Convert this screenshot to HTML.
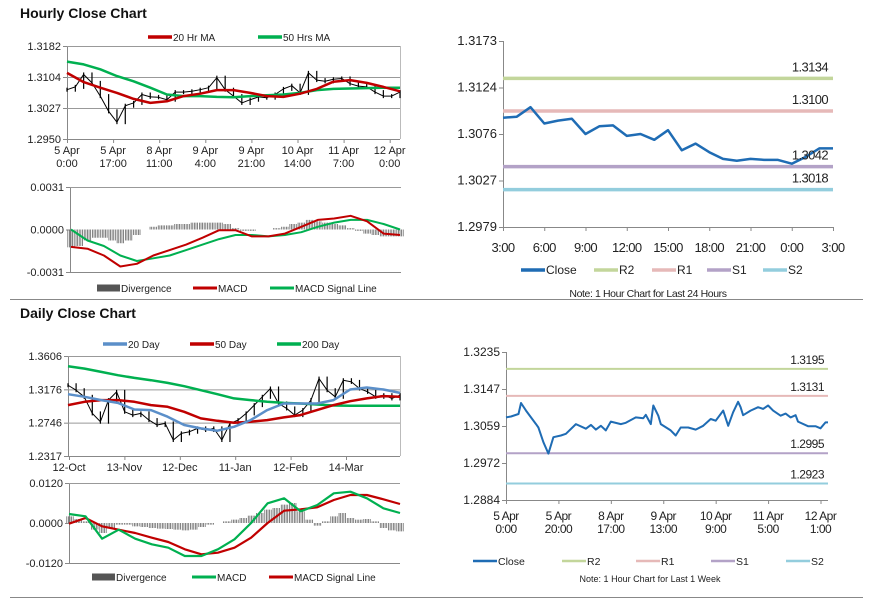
<!DOCTYPE html>
<html><head><meta charset="utf-8"><style>
html,body{margin:0;padding:0;background:#fff;}
svg{display:block;font-family:"Liberation Sans",Arial,sans-serif;}
</style></head><body>
<svg id="s" width="873" height="601" viewBox="0 0 873 601" xmlns="http://www.w3.org/2000/svg">
<rect x="0" y="0" width="873" height="601" fill="#fff"/>
<text x="20" y="18" font-size="14" font-weight="bold" fill="#111">Hourly Close Chart</text>
<text x="20" y="318" font-size="14" font-weight="bold" fill="#111">Daily Close Chart</text>
<line x1="10" y1="299.5" x2="863" y2="299.5" stroke="#888" stroke-width="1"/>
<line x1="10" y1="597.5" x2="863" y2="597.5" stroke="#888" stroke-width="1"/>
</svg>
<script>
// ---------- DATA ----------
const hourlyCloses=[1.3073,1.3080,1.3111,1.3090,1.3057,1.3019,1.2992,1.3033,1.3040,1.3061,1.3055,1.3054,1.3048,1.3067,1.3067,1.3069,1.3073,1.3078,1.3103,1.3073,1.3057,1.3040,1.3048,1.3055,1.3053,1.3061,1.3075,1.3083,1.3065,1.3115,1.3097,1.3094,1.3099,1.3101,1.3088,1.3082,1.3080,1.3067,1.3057,1.3057,1.3067];
const hourlyMA20=[1.3115,1.3092,1.3078,1.3065,1.3050,1.3040,1.3044,1.3057,1.3063,1.3072,1.3072,1.3065,1.3057,1.3055,1.3063,1.3075,1.3093,1.3097,1.3090,1.3080,1.3069];
const hourlyMA50=[1.3143,1.3136,1.3124,1.3107,1.3094,1.3078,1.3061,1.3057,1.3057,1.3055,1.3054,1.3057,1.3059,1.3061,1.3065,1.3072,1.3075,1.3076,1.3077,1.3078,1.3078];
const hourlyYTicks=["1.3182","1.3104","1.3027","1.2950"];
const hourlyXTicks=[["5 Apr","0:00"],["5 Apr","17:00"],["8 Apr","11:00"],["9 Apr","4:00"],["9 Apr","21:00"],["10 Apr","14:00"],["11 Apr","7:00"],["12 Apr","0:00"]];
const hMacd=[-0.00127,-0.0014,-0.0019,-0.0027,-0.0025,-0.0019,-0.0015,-0.0011,-0.0006,-0.00005,-0.00005,-0.0005,-0.0005,-0.0003,0.0002,0.0007,0.0008,0.0010,0.0006,-0.0003,-0.0004];
const hSignal=[0,-0.0008,-0.0012,-0.0019,-0.0023,-0.0021,-0.0019,-0.0015,-0.0011,-0.0007,-0.0004,-0.0004,-0.0005,-0.0004,-0.0002,0.0002,0.0005,0.0007,0.0007,0.0004,0];
const hDiv=[-0.0013,-0.0012,-0.0008,-0.0006,-0.0006,-0.0008,-0.0010,-0.0008,-0.0004,0.0000,0.0002,0.0003,0.0003,0.0004,0.0004,0.0005,0.0005,0.0005,0.0005,0.0004,0.0001,-0.0001,-0.0001,0.0000,0.0000,0.0001,0.0002,0.0004,0.0005,0.0007,0.0006,0.0005,0.0004,0.0003,0.0001,-0.0001,-0.0003,-0.0004,-0.0005,-0.0005,-0.0005];
const hMacdTicks=["0.0031","0.0000","-0.0031"];
const dayCloses=[1.3093,1.3094,1.3104,1.3087,1.3090,1.3092,1.3076,1.3084,1.3085,1.3074,1.3076,1.3070,1.3080,1.3059,1.3066,1.3057,1.3050,1.3048,1.3050,1.3049,1.3049,1.3045,1.3052,1.3061,1.3061];
const dayLevels=[1.3134,1.3100,1.3042,1.3018];
const dayLevelNames=["R2","R1","S1","S2"];
const dayYTicks=["1.3173","1.3124","1.3076","1.3027","1.2979"];
const dayXTicks=["3:00","6:00","9:00","12:00","15:00","18:00","21:00","0:00","3:00"];
const dailyCloses=[1.3229,1.3165,1.3080,1.2866,1.2759,1.3037,1.3144,1.2887,1.2844,1.2866,1.2780,1.2716,1.2737,1.2523,1.2609,1.2630,1.2673,1.2652,1.2673,1.2523,1.2737,1.2780,1.2866,1.2973,1.3080,1.3187,1.2994,1.2930,1.2844,1.2909,1.3037,1.3315,1.3165,1.3080,1.3294,1.3272,1.3187,1.3144,1.3080,1.3101,1.3059,1.3101];
const daily20=[1.3114,1.3080,1.3037,1.3002,1.2917,1.2909,1.2823,1.2716,1.2673,1.2643,1.2694,1.2780,1.2909,1.2994,1.2994,1.2994,1.3037,1.3174,1.3200,1.3174,1.3131];
const daily50=[1.2973,1.3016,1.3037,1.3037,1.3016,1.2973,1.2951,1.2887,1.2802,1.2771,1.2746,1.2759,1.2780,1.2814,1.2844,1.2909,1.2973,1.3024,1.3059,1.3089,1.3080];
const daily200=[1.3473,1.3443,1.3401,1.3358,1.3324,1.3294,1.3259,1.3217,1.3165,1.3114,1.3059,1.3037,1.3016,1.3002,1.2994,1.2981,1.2968,1.2964,1.2964,1.2964,1.2964];
const dailyYTicks=["1.3606","1.3176","1.2746","1.2317"];
const dailyXTicks=["12-Oct","13-Nov","12-Dec","11-Jan","12-Feb","14-Mar"];
const dMacd=[0.0027,0.0020,-0.0047,-0.0020,-0.0047,-0.0064,-0.0074,-0.0099,-0.0099,-0.0079,-0.0049,0,0.0059,0.0074,0.0035,0.0054,0.0089,0.0094,0.0074,0.0044,0.0030];
const dSignal=[-0.0002,0.0015,-0.0010,-0.0020,-0.0030,-0.0044,-0.0057,-0.0079,-0.0094,-0.0089,-0.0074,-0.0044,0,0.0037,0.0041,0.0047,0.0069,0.0084,0.0084,0.0071,0.0057];
const dDiv=[0.0020,0.0012,0.0005,-0.0020,-0.0030,-0.0015,-0.0005,-0.0005,-0.0010,-0.0012,-0.0015,-0.0017,-0.0018,-0.0020,-0.0022,-0.0020,-0.0012,-0.0005,0.0000,0.0005,0.0010,0.0015,0.0022,0.0030,0.0040,0.0045,0.0055,0.0060,0.0035,0.0010,-0.0008,0.0005,0.0020,0.0030,0.0015,0.0010,0.0012,0.0005,-0.0015,-0.0022,-0.0025];
const dMacdTicks=["0.0120","0.0000","-0.0120"];
const weekHours=[0,2,5,6,8,10,12,13,15,17,19,22,24,28,32,34,36,38,40,42,46,48,52,55,56,58,59,61,62,66,68,70,73,76,79,82,84,87,89,91,93,94,95,98,101,103,105,107,110,112,114,116,117,121,124,126,128,129];
const weekCloses=[1.3080,1.3082,1.3088,1.3114,1.3096,1.3080,1.3064,1.3056,1.3021,1.2994,1.3033,1.3037,1.3041,1.3064,1.3053,1.3062,1.3051,1.3060,1.3049,1.3070,1.3064,1.3067,1.3080,1.3078,1.3086,1.3064,1.3108,1.3084,1.3064,1.3049,1.3037,1.3056,1.3056,1.3051,1.3060,1.3076,1.3072,1.3096,1.3060,1.3092,1.3117,1.3104,1.3085,1.3096,1.3104,1.3100,1.3108,1.3096,1.3084,1.3089,1.3080,1.3085,1.3070,1.3059,1.3059,1.3054,1.3068,1.3068];
const weekLevels=[1.3195,1.3131,1.2995,1.2923];
const weekYTicks=["1.3235","1.3147","1.3059","1.2972","1.2884"];
const weekXTicks=[["5 Apr","0:00",0],["5 Apr","20:00",21],["8 Apr","17:00",42],["9 Apr","13:00",63],["10 Apr","9:00",84],["11 Apr","5:00",105],["12 Apr","1:00",126]];

// ---------- HELPERS ----------
const svg=document.getElementById('s');
const NS='http://www.w3.org/2000/svg';
function mk(tag,attrs,parent){const e=document.createElementNS(NS,tag);for(const k in attrs)e.setAttribute(k,attrs[k]);(parent||svg).appendChild(e);return e;}
function lin(d0,d1,r0,r1){return v=>r0+(v-d0)/(d1-d0)*(r1-r0);}
function txt(s,x,y,size,anchor,parent,fill){const t=mk('text',{x:x,y:y,'font-size':size,'text-anchor':anchor||'start',fill:fill||'#222'},parent);t.textContent=s;return t;}
function pathFrom(vals,xs,ys,xf){return vals.map((v,i)=>(i?'L':'M')+xf(i).toFixed(1)+','+ys(v).toFixed(1)).join('');}
function group(name){const g=mk('g',{});return g;}
function yAxis(g,x,yTop,yBot,ticks,xRight,grid,size){
  mk('line',{x1:x+.5,y1:yTop,x2:x+.5,y2:yBot,stroke:'#888'},g);
  ticks.forEach((t,i)=>{const y=yTop+i*(yBot-yTop)/(ticks.length-1);
    mk('line',{x1:x-4,y1:y+.5,x2:x,y2:y+.5,stroke:'#888'},g);
    if(grid)mk('line',{x1:x,y1:y+.5,x2:xRight,y2:y+.5,stroke:'#999'},g);
    const tl=txt(t,x-6,y+4,size,'end',g);
    
    });
}
function legendLine(g,x,y,color,label,w,size){
  mk('line',{x1:x,y1:y,x2:x+24,y2:y,stroke:color,'stroke-width':w||3.5},g);
  const t=txt(label,x+25,y+4,size||10,'start',g);
  
  
}
function legendBox(g,x,y,label,size){
  mk('rect',{x:x,y:y-3.5,width:23,height:7,fill:'#555'},g);
  const t=txt(label,x+24,y+4,size||10,'start',g);
  
  
}
function candles(g,vals,x0,x1,ys){
  const xf=i=>x0+i*(x1-x0)/(vals.length-1);
  vals.forEach((v,i)=>{const p=i?vals[i-1]:v;const a=Math.min(ys(p),ys(v)),b=Math.max(ys(p),ys(v));
    const c=mk('rect',{x:xf(i)-0.6,y:a-2,width:1.2,height:b-a+4,fill:'#000'},g);
    
    
    if(i){const m=mk('line',{x1:xf(i-1),y1:ys(p),x2:xf(i),y2:ys(v),stroke:'#000','stroke-width':1},g);
      
      }
  });
}
function series(g,vals,x0,x1,ys,color,w,name){
  const xf=i=>x0+i*(x1-x0)/(vals.length-1);
  const p=mk('path',{d:pathFrom(vals,null,ys,xf),fill:'none',stroke:color,'stroke-width':w,'stroke-linejoin':'round'},g);
  
  
}
function bars(g,vals,x0,x1,ys){
  const xf=i=>x0+i*(x1-x0)/(vals.length-1);
  vals.forEach((v,i)=>{for(let k=-2;k<=2;k++){const y=ys(v);
    const b=mk('line',{x1:xf(i)+k*1.6,y1:ys(0),x2:xf(i)+k*1.6,y2:y,stroke:'#666','stroke-width':0.8},g);
    
    }});
}

// ---------- CHART 1 ----------
(function(){
  const g=group('hourly-price-chart');
  const ys=lin(1.3182,1.2950,46,139);
  yAxis(g,67,46,139,hourlyYTicks,400,true,11);
  mk('line',{x1:67,y1:139.5,x2:400,y2:139.5,stroke:'#888'},g);
  mk('line',{x1:400.5,y1:46,x2:400.5,y2:139,stroke:'#bbb'},g);
  hourlyXTicks.forEach((t,i)=>{const x=67+i*46.1;
    mk('line',{x1:x+.5,y1:139,x2:x+.5,y2:143,stroke:'#888'},g);
    const a=txt(t[0],x,154,11,'middle',g);
    const b=txt(t[1],x,167,11,'middle',g);});
  candles(g,hourlyCloses,67,400,ys);
  series(g,hourlyMA50,67,400,ys,'#00b050',2.5,'ma-50-line');
  series(g,hourlyMA20,67,400,ys,'#c00000',2.5,'ma-20-line');
  legendLine(g,148,37,'#c00000','20 Hr MA',3.5,10);
  legendLine(g,258,37,'#00b050','50 Hrs MA',3.5,10);
})();
(function(){
  const g=group('hourly-macd-chart');
  const ys=lin(0.0031,-0.0031,187,272);
  yAxis(g,70,187,272,hMacdTicks,401,false,11);
  mk('line',{x1:70,y1:187.5,x2:401,y2:187.5,stroke:'#999'},g);
  mk('line',{x1:70,y1:272.5,x2:401,y2:272.5,stroke:'#888'},g);
  bars(g,hDiv,71,400,ys);
  series(g,hSignal,71,400,ys,'#00b050',2,'macd-signal-line');
  series(g,hMacd,71,400,ys,'#c00000',2,'macd-line');
  legendBox(g,97,288,'Divergence',10);
  legendLine(g,193,288,'#c00000','MACD',3,10);
  legendLine(g,270,288,'#00b050','MACD Signal Line',3,10);
})();
// ---------- CHART 2 ----------
(function(){
  const g=group('last-24h-chart');
  const ys=lin(1.3173,1.2979,41,227);
  yAxis(g,503,41,227,dayYTicks,833,false,13);
  mk('line',{x1:503,y1:227.5,x2:833,y2:227.5,stroke:'#888'},g);
  dayXTicks.forEach((t,i)=>{const x=503+i*41.25;
    mk('line',{x1:x+.5,y1:227,x2:x+.5,y2:231,stroke:'#888'},g);
    const a=txt(t,x,252,13,'middle',g);a.setAttribute('letter-spacing','-0.6');});
  const cols=['#c3d69b','#e6b9b8','#b3a2c7','#93cddd'];
  dayLevels.forEach((v,i)=>{const l=mk('line',{x1:503,y1:ys(v),x2:833,y2:ys(v),stroke:cols[i],'stroke-width':3.5},g);
    
    });
  series(g,dayCloses,503,833,ys,'#1f6cb4',2.5,'close-line');
  dayLevels.forEach((v,i)=>{const t=txt(v.toFixed(4),828,ys(v)-7,13,'end',g);
    
    
    t.setAttribute('letter-spacing','-0.6');});
  legendLine(g,521,270,'#1f6cb4','Close',3.5,12);
  legendLine(g,594,270,'#c3d69b','R2',3.5,12);
  legendLine(g,652,270,'#e6b9b8','R1',3.5,12);
  legendLine(g,707,270,'#b3a2c7','S1',3.5,12);
  legendLine(g,763,270,'#93cddd','S2',3.5,12);
  const n=txt('Note: 1 Hour Chart for Last 24 Hours',648,297,10.5,'middle',g);
  n.setAttribute('letter-spacing','-0.4');
})();
// ---------- CHART 3 ----------
(function(){
  const g=group('daily-price-chart');
  const ys=lin(1.3606,1.2317,356,456);
  yAxis(g,68,356,456,dailyYTicks,400,true,11);
  mk('line',{x1:68,y1:456.5,x2:400,y2:456.5,stroke:'#888'},g);
  mk('line',{x1:400.5,y1:356,x2:400.5,y2:456,stroke:'#bbb'},g);
  dailyXTicks.forEach((t,i)=>{const x=69+i*55.4;
    mk('line',{x1:x+.5,y1:456,x2:x+.5,y2:460,stroke:'#888'},g);
    const a=txt(t,x,471,11,'middle',g);});
  candles(g,dailyCloses,68,400,ys);
  series(g,daily200,68,400,ys,'#00b050',2.5,'ma-200-line');
  series(g,daily50,68,400,ys,'#c00000',2.5,'ma-50-line');
  series(g,daily20,68,400,ys,'#5b8fc9',2.5,'ma-20-line');
  legendLine(g,103,344,'#5b8fc9','20 Day',3.5,10);
  legendLine(g,190,344,'#c00000','50 Day',3.5,10);
  legendLine(g,277,344,'#00b050','200 Day',3.5,10);
})();
(function(){
  const g=group('daily-macd-chart');
  const ys=lin(0.012,-0.012,483,563);
  yAxis(g,69,483,563,dMacdTicks,400,false,11);
  mk('line',{x1:69,y1:483.5,x2:400,y2:483.5,stroke:'#999'},g);
  mk('line',{x1:69,y1:563.5,x2:400,y2:563.5,stroke:'#888'},g);
  bars(g,dDiv,70,400,ys);
  series(g,dSignal,69,400,ys,'#c00000',2.2,'macd-signal-line');
  series(g,dMacd,69,400,ys,'#00b050',2.2,'macd-line');
  legendBox(g,92,577,'Divergence',10);
  legendLine(g,192,577,'#00b050','MACD',3,10);
  legendLine(g,269,577,'#c00000','MACD Signal Line',3,10);
})();
// ---------- CHART 4 ----------
(function(){
  const g=group('last-week-chart');
  const ys=lin(1.3235,1.2884,352,500);
  const xs=lin(0,129,506,828);
  yAxis(g,506,352,500,weekYTicks,828,false,12);
  mk('line',{x1:506,y1:500.5,x2:828,y2:500.5,stroke:'#888'},g);
  weekXTicks.forEach(t=>{const x=xs(t[2]);
    mk('line',{x1:x+.5,y1:500,x2:x+.5,y2:504,stroke:'#888'},g);
    const a=txt(t[0],x,520,12,'middle',g);a.setAttribute('letter-spacing','-0.5');
    const b=txt(t[1],x,533,12,'middle',g);b.setAttribute('letter-spacing','-0.5');});
  const cols=['#c3d69b','#e6b9b8','#b3a2c7','#93cddd'];
  weekLevels.forEach((v,i)=>{const l=mk('line',{x1:506,y1:ys(v),x2:828,y2:ys(v),stroke:cols[i],'stroke-width':2},g);
    
    
    const t=txt(v.toFixed(4),824,ys(v)-5,12,'end',g);
    
    
    t.setAttribute('letter-spacing','-0.5');});
  const d=weekCloses.map((v,i)=>(i?'L':'M')+xs(weekHours[i]).toFixed(1)+','+ys(v).toFixed(1)).join('');
  const p=mk('path',{d:d,fill:'none',stroke:'#1f6cb4','stroke-width':2,'stroke-linejoin':'round'},g);
  
  
  legendLine(g,473,561,'#1f6cb4','Close',2.5,10.5);
  legendLine(g,562,561,'#c3d69b','R2',2.5,10.5);
  legendLine(g,636,561,'#e6b9b8','R1',2.5,10.5);
  legendLine(g,711,561,'#b3a2c7','S1',2.5,10.5);
  legendLine(g,786,561,'#93cddd','S2',2.5,10.5);
  const n=txt('Note: 1 Hour Chart for Last 1 Week',650,582,9,'middle',g);
  
})();
</script>
</body></html>
